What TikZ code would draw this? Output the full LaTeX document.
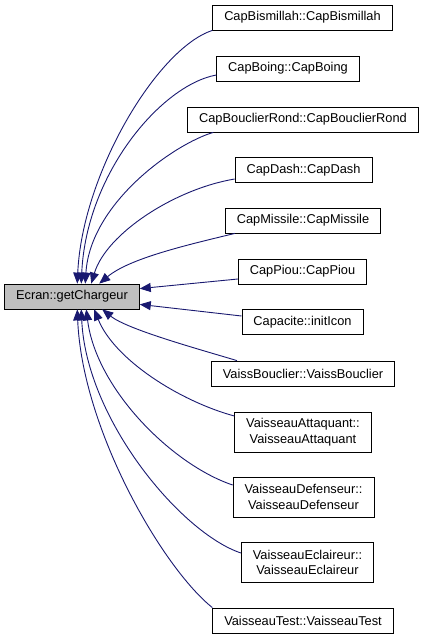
\documentclass[tikz,border=0pt]{standalone}
\usepackage{fontspec}
\setmainfont{Liberation Sans}
\usetikzlibrary{arrows.meta}
\definecolor{edgeblue}{HTML}{191970}
\tikzset{
  fn/.style={draw=black, fill=white, line width=0.8pt, inner xsep=11.5pt, inner ysep=0pt,
    minimum height=25pt, align=center, font=\fontsize{12.8}{15.5}\selectfont},
  cur/.style={fn, fill=black!25},
  two/.style={minimum height=40pt},
  call/.style={draw=edgeblue, line width=0.9pt, -{Triangle[length=11pt,width=9pt]}}
}
\begin{document}
\begin{tikzpicture}[x=1pt,y=-1pt]
			\useasboundingbox (0,0) rectangle (424,640);
			
			\node[cur] (ecran) at (72,296.5) {Ecran::getChargeur};
			
			\node[fn] (bism) at (302.5,17.5) {CapBismillah::CapBismillah};
			\node[fn] (boing) at (288,68.5) {CapBoing::CapBoing};
			\node[fn] (bouc) at (303,119.5) {CapBouclierRond::CapBouclierRond};
			\node[fn] (dash) at (303.5,170) {CapDash::CapDash};
			\node[fn] (miss) at (303,220.5) {CapMissile::CapMissile};
			\node[fn] (piou) at (302.5,271.5) {CapPiou::CapPiou};
			\node[fn] (init) at (302.5,322) {Capacite::initIcon};
			\node[fn] (vbouc) at (303,373.5) {VaissBouclier::VaissBouclier};
			\node[fn,two] (vatt) at (303,432) {VaisseauAttaquant::\\VaisseauAttaquant};
			\node[fn,two] (vdef) at (303.5,497) {VaisseauDefenseur::\\VaisseauDefenseur};
			\node[fn,two] (vecl) at (307.5,562.5) {VaisseauEclaireur::\\VaisseauEclaireur};
			\node[fn] (vtest) at (303,620.5) {VaisseauTest::VaisseauTest};
			
			\draw[call] (bism.south west) .. controls +(-55,18) and +(5,-110) .. ([xshift=73pt]ecran.north west);
			\draw[call] ([yshift=-6.5pt]boing.west) .. controls +(-55,10) and +(5,-110) .. ([xshift=77pt]ecran.north west);
			\draw[call] ([xshift=26pt]bouc.south west) .. controls +(-40,12) and +(5,-80) .. ([xshift=81pt]ecran.north west);
			\draw[call] ([yshift=-9pt]dash.west) .. controls +(-60,10) and +(15,-50) .. ([xshift=87pt]ecran.north west);
			\draw[call] ([xshift=10pt]miss.south west) .. controls +(-50,12) and +(30,-25) .. ([xshift=95pt]ecran.north west);
			\draw[call] ([yshift=-7.5pt]piou.west) -- ([yshift=-5pt]ecran.north east);
			\draw[call] ([yshift=6pt]init.west) -- ([yshift=5pt]ecran.south east);
			\draw[call] ([xshift=26pt]vbouc.north west) .. controls +(-40,-12) and +(25,20) .. ([xshift=98pt]ecran.south west);
			\draw[call] ([yshift=16pt]vatt.west) .. controls +(-55,-15) and +(20,50) .. ([xshift=90pt]ecran.south west);
			\draw[call] ([yshift=12pt]vdef.west) .. controls +(-60,-20) and +(10,80) .. ([xshift=82pt]ecran.south west);
			\draw[call] ([yshift=9.5pt]vecl.west) .. controls +(-60,-20) and +(5,110) .. ([xshift=77pt]ecran.south west);
			\draw[call] (vtest.north west) .. controls +(-50,-40) and +(5,120) .. ([xshift=73pt]ecran.south west);
		\end{tikzpicture}
\end{document}
